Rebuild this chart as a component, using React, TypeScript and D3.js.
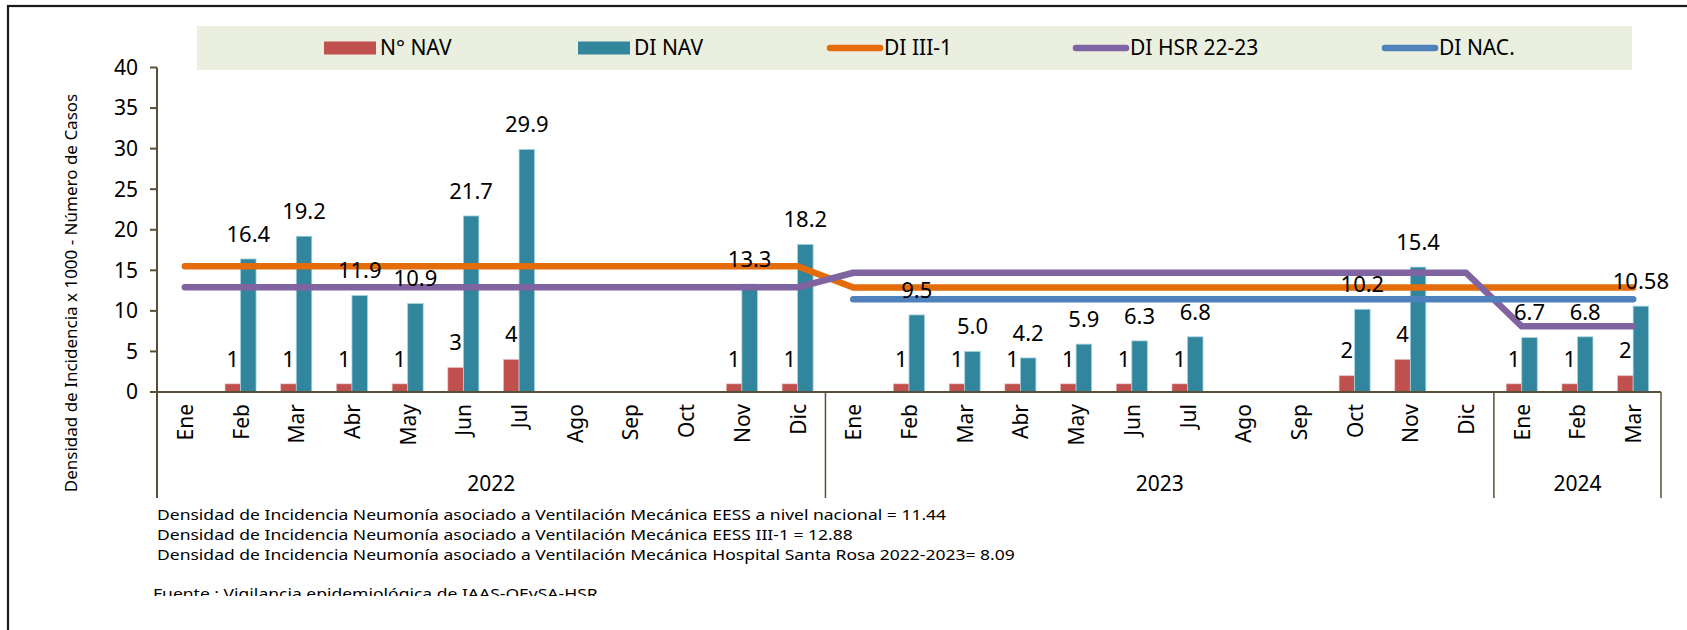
import React from "react";
import * as d3 from "d3";

// --- data ---
const months = ["Ene", "Feb", "Mar", "Abr", "May", "Jun", "Jul", "Ago", "Sep", "Oct", "Nov", "Dic"];
const years = ["2022", "2023", "2024"];
const monthsPerYear = [12, 12, 3];

const nNav = [null, 1, 1, 1, 1, 3, 4, null, null, null, 1, 1,
  null, 1, 1, 1, 1, 1, 1, null, null, 2, 4, null,
  1, 1, 2];
const diNav = [null, 16.4, 19.2, 11.9, 10.9, 21.7, 29.9, null, null, null, 13.3, 18.2,
  null, 9.5, 5.0, 4.2, 5.9, 6.3, 6.8, null, null, 10.2, 15.4, null,
  6.7, 6.8, 10.58];
const diNavLabels = ["", "16.4", "19.2", "11.9", "10.9", "21.7", "29.9", "", "", "", "13.3", "18.2",
  "", "9.5", "5.0", "4.2", "5.9", "6.3", "6.8", "", "", "10.2", "15.4", "",
  "6.7", "6.8", "10.58"];
const diIII1 = [15.5, 15.5, 15.5, 15.5, 15.5, 15.5, 15.5, 15.5, 15.5, 15.5, 15.5, 15.5,
  12.88, 12.88, 12.88, 12.88, 12.88, 12.88, 12.88, 12.88, 12.88, 12.88, 12.88, 12.88,
  12.88, 12.88, 12.88];
const diHsr = [12.9, 12.9, 12.9, 12.9, 12.9, 12.9, 12.9, 12.9, 12.9, 12.9, 12.9, 12.9,
  14.7, 14.7, 14.7, 14.7, 14.7, 14.7, 14.7, 14.7, 14.7, 14.7, 14.7, 14.7,
  8.09, 8.09, 8.09];
const diNac = [null, null, null, null, null, null, null, null, null, null, null, null,
  11.44, 11.44, 11.44, 11.44, 11.44, 11.44, 11.44, 11.44, 11.44, 11.44, 11.44, 11.44,
  11.44, 11.44, 11.44];
const yTicks = [0, 5, 10, 15, 20, 25, 30, 35, 40];

const footnotes = [
  "Densidad de Incidencia Neumonía asociado a Ventilación Mecánica EESS a nivel nacional = 11.44",
  "Densidad de Incidencia Neumonía asociado a Ventilación Mecánica EESS III-1 = 12.88",
  "Densidad de Incidencia Neumonía asociado a Ventilación Mecánica Hospital Santa Rosa 2022-2023= 8.09",
];
const source = "Fuente : Vigilancia epidemiológica de IAAS-OEySA-HSR";

const legendItems = [
  { name: "N° NAV", kind: "rect", color: "#c0504d" },
  { name: "DI NAV", kind: "rect", color: "#31859c" },
  { name: "DI III-1", kind: "line", color: "#e46c0a" },
  { name: "DI HSR 22-23", kind: "line", color: "#8064a2" },
  { name: "DI NAC.", kind: "line", color: "#4f81bd" },
];
// x where each legend swatch starts (Excel spacing)
const legendX = [324, 578, 827, 1073, 1382];

const FONT = "'Noto Sans', 'Open Sans', sans-serif";
const AXIS = "#575036";
// footnotes were set in a narrow font; squeeze Noto vertically instead
const NOTE_SIZE = 14.6;
const NOTE_STRETCH = 1.2;

export default function App() {
  const width = 1687;
  const height = 630;
  const left = 157, right = 1661, top = 67.5, bottom = 392, groupBottom = 498;

  const categories = years.flatMap((yr, yi) =>
    months.slice(0, monthsPerYear[yi]).map(m => ({ month: m, year: yr }))
  );
  const idx = categories.map((_, i) => i);

  const x = d3.scaleBand<number>().domain(idx).range([left, right]).padding(0);
  const cx = (i: number) => (x(i) as number) + x.bandwidth() / 2;
  const sub = d3.scaleBand<string>().domain(["n", "d"]).range([-15.5, 15.5]).padding(0);
  const y = d3.scaleLinear().domain([0, 40]).range([bottom, top]);

  const line = d3.line<number | null>()
    .defined(d => d != null)
    .x((_, i) => cx(i))
    .y(d => y(d as number));

  // group separators (year boundaries)
  let acc = 0;
  const boundaries = [left];
  const yearCenters: number[] = [];
  monthsPerYear.forEach(n => {
    const start = x(acc) as number;
    const end = (x(acc + n - 1) as number) + x.bandwidth();
    yearCenters.push((start + end) / 2);
    boundaries.push(end);
    acc += n;
  });

  return (
    <svg width={width} height={height} style={{ position: "absolute", left: 0, top: 0, background: "#fff" }}
      fontFamily={FONT}>
      <defs>
        <clipPath id="srcClip">
          <rect x={-200} y={0} width={width} height={596} />
        </clipPath>
      </defs>

      {/* outer frame */}
      <rect x={8} y={6} width={1720} height={700} fill="none" stroke="#1a1a1a" strokeWidth={2.2} />

      {/* legend */}
      <rect x={197} y={26} width={1435} height={44} fill="#ebefdf" />
      {legendItems.map((it, i) => (
        <g key={it.name} transform={`translate(${legendX[i]},48)`}>
          {it.kind === "rect"
            ? <rect x={0} y={-6.5} width={52} height={13} fill={it.color} />
            : <line x1={3} x2={53} y1={0} y2={0} stroke={it.color} strokeWidth={6.5} strokeLinecap="round" />}
          <text x={it.kind === "rect" ? 56 : 57} y={0} dy="0.35em" fontSize={21} fill="#000">{it.name}</text>
        </g>
      ))}

      {/* y axis */}
      <line x1={left} x2={left} y1={top} y2={groupBottom} stroke={AXIS} strokeWidth={2} />
      {yTicks.map(t => (
        <g key={t}>
          <line x1={left - 7} x2={left} y1={y(t)} y2={y(t)} stroke={AXIS} strokeWidth={2} />
          <text x={left - 19} y={y(t)} dy="0.35em" textAnchor="end" fontSize={21} fill="#000">{t}</text>
        </g>
      ))}
      <text transform={`translate(71,293) rotate(-90)`} textAnchor="middle"
        dy="0.35em" fontSize={17} fill="#000">
        Densidad de Incidencia x 1000 - Número de Casos
      </text>

      {/* bars */}
      {nNav.map((v, i) => v == null ? null : (
        <rect key={"n" + i} x={cx(i) + (sub("n") as number)} width={sub.bandwidth()}
          y={y(v)} height={y(0) - y(v)} fill="#c0504d" stroke="#e8b4b2" strokeWidth={0.6} />
      ))}
      {diNav.map((v, i) => v == null ? null : (
        <rect key={"d" + i} x={cx(i) + (sub("d") as number)} width={sub.bandwidth()}
          y={y(v)} height={y(0) - y(v)} fill="#31859c" stroke="#a5d3df" strokeWidth={0.8} />
      ))}

      {/* lines */}
      <path d={line(diIII1) || ""} fill="none" stroke="#e46c0a" strokeWidth={6.5} strokeLinecap="round" strokeLinejoin="round" />
      <path d={line(diHsr) || ""} fill="none" stroke="#8064a2" strokeWidth={6.5} strokeLinecap="round" strokeLinejoin="round" />
      <path d={line(diNac) || ""} fill="none" stroke="#4f81bd" strokeWidth={6.5} strokeLinecap="round" strokeLinejoin="round" />

      {/* data labels */}
      {nNav.map((v, i) => v == null ? null : (
        <text key={"nl" + i} x={cx(i) + (sub("n") as number) + sub.bandwidth() / 2} y={y(v) - 25}
          dy="0.35em" textAnchor="middle" fontSize={22} fill="#000">{v}</text>
      ))}
      {diNav.map((v, i) => v == null ? null : (
        <text key={"dl" + i} x={cx(i) + (sub("d") as number) + sub.bandwidth() / 2} y={y(v) - 25}
          dy="0.35em" textAnchor="middle" fontSize={22} fill="#000">{diNavLabels[i]}</text>
      ))}

      {/* x axis */}
      <line x1={left} x2={right} y1={bottom} y2={bottom} stroke={AXIS} strokeWidth={2} />
      {boundaries.slice(1).map((b, i) => (
        <line key={"b" + i} x1={b} x2={b} y1={bottom} y2={groupBottom} stroke={AXIS} strokeWidth={1.5} />
      ))}
      {categories.map((c, i) => (
        <text key={"c" + i} transform={`translate(${cx(i)},404) rotate(-90)`} textAnchor="end"
          dominantBaseline="central" fontSize={21} fill="#000">{c.month}</text>
      ))}
      {years.map((yr, i) => (
        <text key={yr} x={yearCenters[i]} y={484} dy="0.35em" textAnchor="middle" fontSize={21} fill="#000">{yr}</text>
      ))}

      {/* footnotes */}
      <g transform={`translate(157,0) scale(${NOTE_STRETCH},1)`}>
        {footnotes.map((f, i) => (
          <text key={"f" + i} x={0} y={515 + i * 20} dy="0.35em" fontSize={NOTE_SIZE} fill="#000">{f}</text>
        ))}
      </g>
      <g transform={`translate(153,0) scale(${NOTE_STRETCH},1)`}>
        <text x={0} y={599} fontSize={NOTE_SIZE} fill="#000" clipPath="url(#srcClip)">{source}</text>
      </g>
    </svg>
  );
}
